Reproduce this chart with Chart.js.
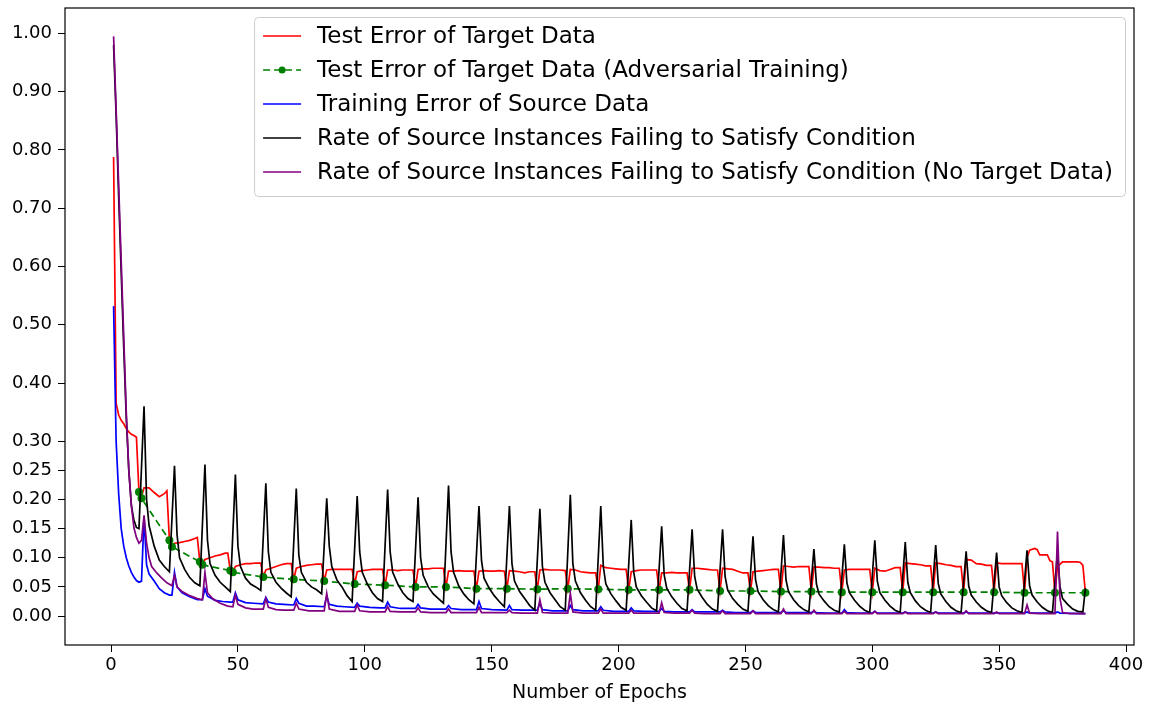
<!DOCTYPE html>
<html>
<head>
<meta charset="utf-8">
<script src="https://cdn.jsdelivr.net/npm/chart.js@4.4.1/dist/chart.umd.min.js"></script>
<style>
  html, body { margin: 0; padding: 0; background: #fff; }
  #wrap { width: 1151px; height: 707px; }
</style>
</head>
<body>
<div id="wrap"><canvas id="chart" width="1151" height="707"></canvas></div>
<script>
// values (epoch -> rate)
const seriesLabels = [
    'Test Error of Target Data',
    'Test Error of Target Data (Adversarial Training)',
    'Training Error of Source Data',
    'Rate of Source Instances Failing to Satisfy Condition',
    'Rate of Source Instances Failing to Satisfy Condition (No Target Data)'
];

const redEpochs = [1, 2, 3, 4, 5, 6, 7, 8, 9, 10, 11, 12,
    13, 15, 17, 19, 21, 22, 23, 24,
    25, 27, 29, 31, 33, 34, 35, 36,
    37, 39, 41, 43, 45, 46, 47, 48,
    49, 51, 53, 55, 57, 59, 60,
    61, 63, 65, 67, 69, 71, 72,
    73, 75, 77, 79, 81, 83, 84,
    85, 87, 89, 91, 93, 95, 96,
    97, 99, 101, 103, 105, 107, 108,
    109, 111, 113, 115, 117, 119, 120,
    121, 123, 125, 127, 129, 131, 132,
    133, 135, 137, 139, 141, 143, 144,
    145, 147, 149, 151, 153, 155, 156,
    157, 159, 161, 163, 165, 167, 168,
    169, 171, 173, 175, 177, 179, 180,
    181, 183, 185, 187, 189, 191, 192,
    193, 195, 197, 199, 201, 203, 204,
    205, 207, 209, 211, 213, 215, 216,
    217, 219, 221, 223, 225, 227, 228,
    229, 231, 233, 235, 237, 239, 240,
    241, 243, 245, 247, 249, 251, 252,
    253, 255, 257, 259, 261, 263, 264,
    265, 267, 269, 271, 273, 275, 276,
    277, 279, 281, 283, 285, 287, 288,
    289, 291, 293, 295, 297, 299, 300,
    301, 303, 305, 307, 309, 311, 312,
    313, 315, 317, 319, 321, 323, 324,
    325, 327, 329, 331, 333, 335, 336,
    337, 339, 341, 343, 345, 347, 348,
    349, 351, 353, 355, 357, 359, 360,
    361, 362, 364, 365, 366, 369, 370, 371, 372,
    373, 375, 377, 379, 381, 382, 383, 384];
const redValues = [0.788, 0.365, 0.345, 0.336, 0.33, 0.322, 0.316, 0.312, 0.31, 0.307, 0.213, 0.205,
    0.22, 0.22, 0.212, 0.205, 0.21, 0.215, 0.13, 0.12,
    0.125, 0.126, 0.128, 0.13, 0.133, 0.135, 0.093, 0.088,
    0.097, 0.1, 0.103, 0.105, 0.108, 0.108, 0.078, 0.075,
    0.085, 0.088, 0.09, 0.09, 0.091, 0.091, 0.067,
    0.079, 0.082, 0.085, 0.088, 0.09, 0.09, 0.063,
    0.082, 0.085, 0.087, 0.088, 0.089, 0.089, 0.06,
    0.079, 0.08, 0.08, 0.08, 0.08, 0.08, 0.055,
    0.076, 0.078, 0.079, 0.08, 0.08, 0.08, 0.053,
    0.079, 0.079, 0.078, 0.079, 0.079, 0.079, 0.05,
    0.08, 0.081, 0.081, 0.082, 0.082, 0.082, 0.05,
    0.077, 0.077, 0.078, 0.077, 0.077, 0.077, 0.047,
    0.077, 0.078, 0.077, 0.077, 0.078, 0.077, 0.047,
    0.078, 0.077, 0.076, 0.074, 0.076, 0.076, 0.046,
    0.079, 0.08, 0.079, 0.079, 0.079, 0.078, 0.047,
    0.08, 0.079, 0.076, 0.075, 0.074, 0.074, 0.046,
    0.087, 0.083, 0.082, 0.081, 0.08, 0.08, 0.045,
    0.076, 0.078, 0.079, 0.079, 0.079, 0.079, 0.045,
    0.074, 0.074, 0.075, 0.074, 0.074, 0.074, 0.045,
    0.082, 0.082, 0.081, 0.08, 0.079, 0.079, 0.043,
    0.082, 0.081, 0.08, 0.077, 0.074, 0.074, 0.043,
    0.076, 0.077, 0.078, 0.079, 0.08, 0.08, 0.042,
    0.086, 0.085, 0.084, 0.085, 0.085, 0.085, 0.042,
    0.084, 0.084, 0.083, 0.083, 0.082, 0.082, 0.041,
    0.079, 0.08, 0.08, 0.08, 0.08, 0.08, 0.041,
    0.082, 0.078, 0.077, 0.08, 0.083, 0.083, 0.041,
    0.091, 0.09, 0.089, 0.088, 0.086, 0.086, 0.041,
    0.091, 0.09, 0.088, 0.087, 0.085, 0.085, 0.041,
    0.097, 0.096, 0.09, 0.089, 0.087, 0.087, 0.041,
    0.091, 0.09, 0.09, 0.09, 0.09, 0.09, 0.04,
    0.1, 0.113, 0.116, 0.114, 0.105, 0.105, 0.095, 0.093, 0.04,
    0.085, 0.093, 0.093, 0.093, 0.093, 0.092, 0.087, 0.04];

const greenEpochs = [11, 12, 23, 24, 35, 36, 47, 48, 60, 72, 84, 96, 108, 120, 132, 144, 156, 168,
    180, 192, 204, 216, 228, 240, 252, 264, 276, 288, 300, 312, 324, 336, 348, 360, 372, 384];
const greenValues = [0.213, 0.202, 0.13, 0.119, 0.093, 0.088, 0.078, 0.075, 0.067, 0.063, 0.06, 0.055,
    0.053, 0.05, 0.05, 0.047, 0.047, 0.046, 0.047, 0.046, 0.045, 0.045, 0.045, 0.043, 0.043, 0.042,
    0.042, 0.041, 0.041, 0.041, 0.041, 0.041, 0.041, 0.04, 0.04, 0.04];

const blueEpochs = [1, 2, 3, 4, 5, 6, 7, 8, 9, 10, 11, 12, 13, 14, 15, 17, 19, 21, 23, 24,
    25, 26, 28, 31, 34, 36, 37, 38, 41, 44, 47, 48,
    49, 50, 53, 56, 60, 61, 62, 65, 68, 72, 73, 74, 77, 80, 84,
    85, 86, 89, 92, 96, 97, 98, 102, 106, 108, 109, 110, 114, 118, 120,
    121, 122, 126, 132, 133, 134, 138, 144, 145, 146, 150, 156, 157, 158, 162, 168,
    169, 170, 174, 180, 181, 182, 186, 192, 193, 194, 198, 204, 205, 206, 210, 216,
    217, 218, 222, 228, 229, 230, 234, 240, 241, 242, 246, 252, 253, 254, 258, 264,
    265, 266, 270, 276, 277, 278, 282, 288, 289, 290, 294, 300, 301, 302, 306, 312,
    313, 314, 318, 324, 325, 326, 336, 337, 338, 348, 349, 350, 360, 361, 362, 372, 373, 374, 384];
const blueValues = [0.532, 0.30, 0.21, 0.15, 0.12, 0.10, 0.086, 0.075, 0.067, 0.061, 0.058, 0.06, 0.17, 0.088, 0.072, 0.06, 0.047, 0.04, 0.036, 0.036,
    0.075, 0.05, 0.04, 0.033, 0.028, 0.028, 0.047, 0.034, 0.027, 0.025, 0.024, 0.024,
    0.04, 0.028, 0.023, 0.022, 0.021, 0.032, 0.024, 0.021, 0.02, 0.019, 0.03, 0.022, 0.017, 0.017, 0.016,
    0.034, 0.02, 0.017, 0.016, 0.015, 0.022, 0.017, 0.015, 0.014, 0.014, 0.024, 0.016, 0.013, 0.013, 0.013,
    0.02, 0.014, 0.012, 0.012, 0.018, 0.013, 0.011, 0.011, 0.025, 0.013, 0.011, 0.01, 0.018, 0.011, 0.01, 0.01,
    0.022, 0.011, 0.009, 0.009, 0.018, 0.011, 0.009, 0.009, 0.016, 0.01, 0.008, 0.008, 0.014, 0.009, 0.008, 0.008,
    0.013, 0.008, 0.007, 0.007, 0.011, 0.007, 0.007, 0.007, 0.01, 0.007, 0.006, 0.006, 0.009, 0.006, 0.006, 0.006,
    0.009, 0.006, 0.006, 0.006, 0.008, 0.006, 0.005, 0.005, 0.011, 0.006, 0.005, 0.005, 0.008, 0.005, 0.005, 0.005,
    0.007, 0.005, 0.005, 0.005, 0.007, 0.005, 0.005, 0.007, 0.005, 0.005, 0.006, 0.005, 0.005, 0.007, 0.005, 0.005, 0.007, 0.005, 0.004];

// one line per 12-epoch cycle: peak, then the decay down to the next trough
const blackEpochs = [1, 2, 3, 4, 5, 6, 7, 8, 9, 10, 11,
    13, 14, 15, 17, 19, 21, 23,
    25, 26, 27, 29, 31, 33, 35,
    37, 38, 39, 41, 43, 45, 47,
    49, 50, 51, 53, 55, 57, 59,
    61, 62, 63, 65, 67, 69, 71,
    73, 74, 75, 77, 79, 81, 83,
    85, 86, 87, 89, 91, 93, 95,
    97, 98, 99, 101, 103, 105, 107,
    109, 110, 111, 113, 115, 117, 119,
    121, 122, 123, 125, 127, 129, 131,
    133, 134, 135, 137, 139, 141, 143,
    145, 146, 147, 149, 151, 153, 155,
    157, 158, 159, 161, 163, 165, 167,
    169, 170, 171, 173, 175, 177, 179,
    181, 182, 183, 185, 187, 189, 191,
    193, 194, 195, 197, 199, 201, 203,
    205, 206, 207, 209, 211, 213, 215,
    217, 218, 219, 221, 223, 225, 227,
    229, 230, 231, 233, 235, 237, 239,
    241, 242, 243, 245, 247, 249, 251,
    253, 254, 255, 257, 259, 261, 263,
    265, 266, 267, 269, 271, 273, 275,
    277, 278, 279, 281, 283, 285, 287,
    289, 290, 291, 293, 295, 297, 299,
    301, 302, 303, 305, 307, 309, 311,
    313, 314, 315, 317, 319, 321, 323,
    325, 326, 327, 329, 331, 333, 335,
    337, 338, 339, 341, 343, 345, 347,
    349, 350, 351, 353, 355, 357, 359,
    361, 362, 363, 365, 367, 369, 371,
    373, 374, 375, 377, 379, 381, 383,
    384];
const blackValues = [0.98, 0.86, 0.72, 0.59, 0.46, 0.34, 0.25, 0.19, 0.165, 0.152, 0.15,
    0.36, 0.20, 0.155, 0.12, 0.096, 0.085, 0.076,
    0.258, 0.14, 0.10, 0.08, 0.066, 0.057, 0.052,
    0.26, 0.13, 0.09, 0.07, 0.058, 0.05, 0.042,
    0.243, 0.12, 0.085, 0.065, 0.055, 0.05, 0.044,
    0.228, 0.11, 0.075, 0.058, 0.048, 0.04, 0.033,
    0.219, 0.105, 0.075, 0.058, 0.05, 0.045, 0.038,
    0.202, 0.12, 0.085, 0.062, 0.05, 0.035, 0.025,
    0.206, 0.11, 0.075, 0.055, 0.04, 0.03, 0.025,
    0.217, 0.11, 0.075, 0.055, 0.04, 0.03, 0.025,
    0.204, 0.10, 0.07, 0.05, 0.038, 0.03, 0.022,
    0.224, 0.11, 0.075, 0.052, 0.038, 0.028, 0.021,
    0.189, 0.095, 0.065, 0.048, 0.035, 0.025, 0.016,
    0.189, 0.09, 0.06, 0.042, 0.03, 0.018, 0.010,
    0.184, 0.085, 0.058, 0.04, 0.028, 0.016, 0.010,
    0.208, 0.09, 0.06, 0.04, 0.027, 0.016, 0.010,
    0.189, 0.085, 0.055, 0.038, 0.026, 0.015, 0.010,
    0.165, 0.075, 0.05, 0.035, 0.024, 0.014, 0.009,
    0.154, 0.07, 0.048, 0.033, 0.022, 0.013, 0.009,
    0.149, 0.068, 0.046, 0.032, 0.02, 0.012, 0.008,
    0.149, 0.068, 0.045, 0.03, 0.02, 0.012, 0.008,
    0.137, 0.062, 0.042, 0.028, 0.018, 0.011, 0.007,
    0.139, 0.062, 0.042, 0.028, 0.018, 0.011, 0.007,
    0.115, 0.055, 0.038, 0.026, 0.016, 0.01, 0.007,
    0.123, 0.057, 0.04, 0.027, 0.017, 0.01, 0.006,
    0.130, 0.06, 0.04, 0.027, 0.017, 0.01, 0.006,
    0.127, 0.058, 0.04, 0.026, 0.016, 0.01, 0.006,
    0.122, 0.056, 0.038, 0.025, 0.015, 0.009, 0.006,
    0.111, 0.052, 0.036, 0.024, 0.015, 0.009, 0.006,
    0.109, 0.05, 0.035, 0.023, 0.014, 0.009, 0.006,
    0.113, 0.052, 0.036, 0.024, 0.015, 0.009, 0.006,
    0.11, 0.05, 0.03, 0.02, 0.012, 0.008, 0.007,
    0.048];

const purpleEpochs = [1, 2, 3, 4, 5, 6, 7, 8, 9, 10, 11, 12, 13, 14, 15, 16, 18, 20, 22, 24,
    25, 26, 28, 31, 34, 36, 37, 38, 40, 43, 46, 48,
    49, 50, 53, 56, 60, 61, 62, 65, 68, 72, 73, 74, 78, 84,
    85, 86, 90, 96, 97, 98, 102, 108, 109, 110, 114, 120,
    121, 122, 126, 132, 133, 134, 138, 144, 145, 146, 150, 156, 157, 158, 162, 168,
    169, 170, 174, 180, 181, 182, 186, 192, 193, 194, 198, 204, 205, 206, 210, 216,
    217, 218, 222, 228, 229, 230, 234, 240, 241, 242, 246, 252, 253, 254, 258, 264,
    265, 266, 270, 276, 277, 278, 282, 288, 289, 290, 294, 300, 301, 302, 306, 312,
    313, 314, 318, 324, 325, 326, 330, 336, 337, 338, 342, 348, 349, 350, 354, 360,
    361, 362, 366, 371, 372, 373, 374, 375, 378, 384];
const purpleValues = [0.995, 0.87, 0.74, 0.61, 0.48, 0.35, 0.25, 0.19, 0.152, 0.135, 0.125, 0.13, 0.173, 0.125, 0.1, 0.085, 0.074, 0.065, 0.057, 0.052,
    0.07, 0.05, 0.042, 0.035, 0.03, 0.028, 0.075, 0.04, 0.03, 0.022, 0.017, 0.016,
    0.036, 0.02, 0.014, 0.012, 0.012, 0.03, 0.015, 0.011, 0.01, 0.01, 0.022, 0.012, 0.009, 0.009,
    0.039, 0.012, 0.008, 0.008, 0.019, 0.009, 0.007, 0.007, 0.016, 0.008, 0.007, 0.007,
    0.014, 0.007, 0.006, 0.006, 0.012, 0.006, 0.006, 0.006, 0.015, 0.006, 0.006, 0.006, 0.01, 0.006, 0.005, 0.005,
    0.028, 0.006, 0.005, 0.005, 0.039, 0.007, 0.005, 0.005, 0.012, 0.005, 0.005, 0.005, 0.01, 0.005, 0.005, 0.005,
    0.023, 0.006, 0.005, 0.005, 0.01, 0.005, 0.004, 0.004, 0.009, 0.004, 0.004, 0.004, 0.009, 0.004, 0.004, 0.004,
    0.012, 0.004, 0.004, 0.004, 0.01, 0.004, 0.004, 0.004, 0.008, 0.004, 0.004, 0.004, 0.008, 0.004, 0.004, 0.004,
    0.007, 0.004, 0.004, 0.004, 0.007, 0.004, 0.004, 0.004, 0.009, 0.004, 0.004, 0.004, 0.007, 0.004, 0.004, 0.004,
    0.019, 0.005, 0.004, 0.004, 0.004, 0.145, 0.03, 0.006, 0.004, 0.004];

const yTickValues = [0, 0.05, 0.1, 0.15, 0.2, 0.25, 0.3, 0.4, 0.5, 0.6, 0.7, 0.8, 0.9, 1.0];
const xTickValues = [0, 50, 100, 150, 200, 250, 300, 350, 400];

const FONT = '"DejaVu Sans", "Liberation Sans", sans-serif';
const LINE_W = 1.7;

function toPoints(xs, ys) {
    return xs.map((x, i) => ({ x: x, y: ys[i] }));
}

// matplotlib-ish full frame plus the boxed legend in the top right
const frameLegend = {
    id: 'frameLegend',
    afterDraw: function (chart) {
        const ctx = chart.ctx;
        const a = chart.chartArea;
        ctx.save();
        ctx.strokeStyle = '#000';
        ctx.lineWidth = 1.2;
        ctx.strokeRect(a.left, a.top, a.right - a.left, a.bottom - a.top);

        const sets = chart.data.datasets;
        ctx.font = '23px ' + FONT;
        const textW = Math.max(...seriesLabels.map(s => ctx.measureText(s).width));
        const rowH = 34;
        const boxW = 63 + textW + 12;
        const boxH = 179;
        const bx = a.right - 9 - boxW;
        const by = a.top + 9;

        ctx.beginPath();
        ctx.roundRect(bx + 0.5, by + 0.5, boxW, boxH, 4);
        ctx.fillStyle = 'rgba(255,255,255,0.8)';
        ctx.fill();
        ctx.strokeStyle = '#cccccc';
        ctx.lineWidth = 1;
        ctx.stroke();

        seriesLabels.forEach(function (label, i) {
            const ds = sets.find(d => d.label === label);
            const cy = by + 19 + i * rowH;
            ctx.strokeStyle = ds.borderColor;
            ctx.lineWidth = ds.borderWidth;
            ctx.setLineDash(ds.borderDash || []);
            ctx.beginPath();
            ctx.moveTo(bx + 9, cy);
            ctx.lineTo(bx + 47, cy);
            ctx.stroke();
            ctx.setLineDash([]);
            if (ds.pointRadius > 0) {
                ctx.fillStyle = ds.pointBackgroundColor;
                ctx.beginPath();
                ctx.arc(bx + 28, cy, 3.5, 0, Math.PI * 2);
                ctx.fill();
            }
            ctx.fillStyle = '#000';
            ctx.textBaseline = 'middle';
            ctx.textAlign = 'left';
            ctx.fillText(label, bx + 63, cy + 1);
        });
        ctx.restore();
    }
};

new Chart(document.getElementById('chart').getContext('2d'), {
    type: 'line',
    data: {
        datasets: [
            {
                label: seriesLabels[0],
                data: toPoints(redEpochs, redValues),
                borderColor: '#ff0000',
                borderWidth: LINE_W,
                pointRadius: 0,
                order: 5
            },
            {
                label: seriesLabels[1],
                data: toPoints(greenEpochs, greenValues),
                borderColor: '#008000',
                borderWidth: LINE_W,
                borderDash: [7, 4],
                pointRadius: 4,
                pointBackgroundColor: '#008000',
                pointBorderColor: '#008000',
                pointBorderWidth: 0,
                order: 4
            },
            {
                label: seriesLabels[2],
                data: toPoints(blueEpochs, blueValues),
                borderColor: '#0000ff',
                borderWidth: LINE_W,
                pointRadius: 0,
                order: 3
            },
            {
                label: seriesLabels[3],
                data: toPoints(blackEpochs, blackValues),
                borderColor: '#000000',
                borderWidth: LINE_W,
                pointRadius: 0,
                order: 2
            },
            {
                label: seriesLabels[4],
                data: toPoints(purpleEpochs, purpleValues),
                borderColor: '#800080',
                borderWidth: LINE_W,
                pointRadius: 0,
                order: 1
            }
        ]
    },
    options: {
        responsive: false,
        animation: false,
        devicePixelRatio: 1,
        layout: {
            padding: { top: 8, right: 17, left: 0, bottom: 0 }
        },
        elements: {
            line: { tension: 0, fill: false }
        },
        plugins: {
            legend: { display: false },
            tooltip: { enabled: false }
        },
        scales: {
            x: {
                type: 'linear',
                min: -18.15,
                max: 403.15,
                afterBuildTicks: (scale) => { scale.ticks = xTickValues.map(v => ({ value: v })); },
                afterFit: (scale) => {
                    scale.height = 62;
                    scale.paddingLeft = 0;
                    scale.paddingRight = 0;
                },
                border: { display: false },
                grid: { drawOnChartArea: false, drawTicks: true, tickLength: 7, color: '#000', lineWidth: 1 },
                ticks: {
                    autoSkip: false,
                    maxRotation: 0,
                    padding: 3,
                    color: '#000',
                    font: { family: FONT, size: 18 },
                    callback: (v) => String(v)
                },
                title: {
                    display: true,
                    text: 'Number of Epochs',
                    color: '#000',
                    font: { family: FONT, size: 19 },
                    padding: { top: 0, bottom: 3 }
                }
            },
            y: {
                type: 'linear',
                min: -0.0497,
                max: 1.0437,
                afterBuildTicks: (scale) => { scale.ticks = yTickValues.map(v => ({ value: v })); },
                afterFit: (scale) => {
                    scale.width = 65;
                    scale.paddingTop = 0;
                    scale.paddingBottom = 0;
                },
                border: { display: false },
                grid: { drawOnChartArea: false, drawTicks: true, tickLength: 7, color: '#000', lineWidth: 1 },
                ticks: {
                    autoSkip: false,
                    padding: 6,
                    color: '#000',
                    font: { family: FONT, size: 18 },
                    callback: (v) => Number(v).toFixed(2)
                }
            }
        }
    },
    plugins: [frameLegend]
});
</script>
</body>
</html>
